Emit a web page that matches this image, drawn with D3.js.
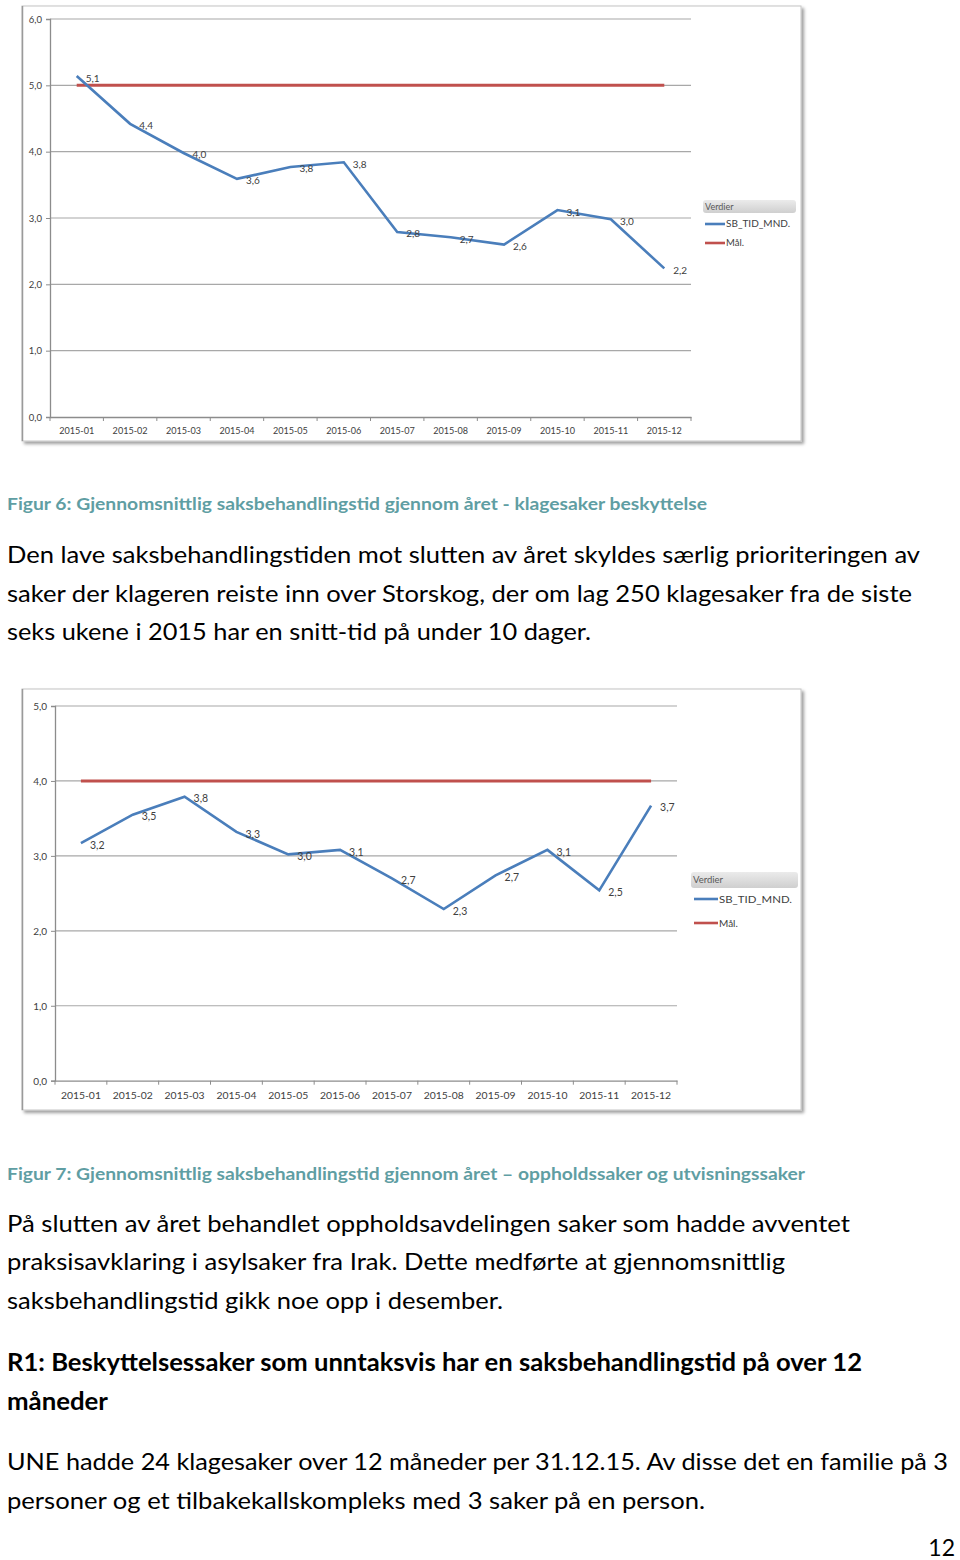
<!DOCTYPE html>
<html><head><meta charset="utf-8">
<script src="https://cdn.jsdelivr.net/npm/d3@7/dist/d3.min.js"></script>
<style>body{margin:0;background:#fff;}svg{display:block;}</style>
</head><body>
<script>
// ---------- data ----------
const months = ["2015-01","2015-02","2015-03","2015-04","2015-05","2015-06","2015-07","2015-08","2015-09","2015-10","2015-11","2015-12"];
const klageValues = [5.14, 4.42, 3.98, 3.59, 3.77, 3.84, 2.79, 2.71, 2.60, 3.12, 2.98, 2.24];
const klageTarget = [5, 5, 5, 5, 5, 5, 5, 5, 5, 5, 5, 5];
const klageTicks = [0, 1, 2, 3, 4, 5, 6];
const oppholdValues = [3.17, 3.55, 3.79, 3.32, 3.02, 3.08, 2.70, 2.29, 2.74, 3.08, 2.54, 3.67];
const oppholdTarget = [4, 4, 4, 4, 4, 4, 4, 4, 4, 4, 4, 4];
const oppholdTicks = [0, 1, 2, 3, 4, 5];
const seriesNames = ["SB_TID_MND.", "Mål."];
const legendTitle = "Verdier";

const W = 960, H = 1560;
const svg = d3.select("body").append("svg").attr("width", W).attr("height", H);
const defs = svg.append("defs");
const f = defs.append("filter").attr("id","shadow").attr("x","-5%").attr("y","-5%").attr("width","110%").attr("height","110%");
f.append("feDropShadow").attr("dx",2.5).attr("dy",2.5).attr("stdDeviation",1.8).attr("flood-color","#000").attr("flood-opacity",0.38);
const lg = defs.append("linearGradient").attr("id","legGrad").attr("x1",0).attr("y1",0).attr("x2",0).attr("y2",1);
lg.append("stop").attr("offset","0%").attr("stop-color","#ebebeb");
lg.append("stop").attr("offset","100%").attr("stop-color","#cfcfcf");

const fmt = v => d3.format(".1f")(v).replace(".", ",");
const BLUE = "#4a7ebb", RED = "#c0504d", TXT = "#404040", FONT = "Lato, 'Open Sans', sans-serif";

function drawChart(cfg) {
  const g = svg.append("g");
  g.append("rect").attr("x", cfg.fx).attr("y", cfg.fy).attr("width", cfg.fw).attr("height", cfg.fh)
    .attr("fill", "#fff").attr("stroke", "#c4c4c4").attr("stroke-width", 1).attr("filter", "url(#shadow)");
  g.append("line").attr("x1", cfg.fx+0.5).attr("x2", cfg.fx+0.5).attr("y1", cfg.fy).attr("y2", cfg.fy+cfg.fh)
    .attr("stroke", "#9a9a9a").attr("stroke-width", 1.5);

  const x = d3.scaleBand().domain(months).range([cfg.left, cfg.right]);
  const y = d3.scaleLinear().domain([0, d3.max(cfg.ticks)]).range([cfg.bottom, cfg.top]);

  // gridlines
  g.append("g").selectAll("line").data(cfg.ticks.filter(t => t > 0)).join("line")
    .attr("x1", cfg.left).attr("x2", cfg.right)
    .attr("y1", d => y(d)).attr("y2", d => y(d))
    .attr("stroke", "#a8a8a8").attr("stroke-width", 1.2);

  // y axis
  const ya = g.append("g").attr("transform", `translate(${cfg.left},0)`)
    .call(d3.axisLeft(y).tickValues(cfg.ticks).tickFormat(fmt).tickSize(4).tickPadding(4));
  ya.select(".domain").attr("stroke", "#8c8c8c").attr("stroke-width", 1.3);
  ya.selectAll(".tick line").attr("stroke", "#8c8c8c");
  ya.selectAll("text").attr("fill", TXT).attr("font-family", FONT).attr("font-size", cfg.fs).attr("dy", "0.35em");

  // x axis
  const xa = g.append("g").attr("transform", `translate(0,${cfg.bottom})`)
    .call(d3.axisBottom(x).tickSize(0).tickPadding(cfg.xpad));
  xa.select(".domain").attr("stroke", "#8c8c8c").attr("stroke-width", 1.3);
  xa.selectAll("text").attr("fill", TXT).attr("font-family", FONT).attr("font-size", cfg.fs)
    .attr("textLength", cfg.xlw).attr("lengthAdjust", "spacingAndGlyphs");
  g.append("g").selectAll("line").data(d3.range(months.length + 1)).join("line")
    .attr("x1", i => cfg.left + i * x.step()).attr("x2", i => cfg.left + i * x.step())
    .attr("y1", cfg.bottom).attr("y2", cfg.bottom + 4)
    .attr("stroke", "#8c8c8c").attr("stroke-width", 1);

  const cx = d => x(d) + x.bandwidth() / 2;
  const line = d3.line().x(d => cx(d.m)).y(d => y(d.v));

  g.append("path").datum(months.map((m, i) => ({m, v: cfg.target[i]})))
    .attr("d", line).attr("fill", "none").attr("stroke", RED).attr("stroke-width", 3);
  const pts = months.map((m, i) => ({m, v: cfg.values[i]}));
  g.append("path").datum(pts)
    .attr("d", line).attr("fill", "none").attr("stroke", BLUE).attr("stroke-width", 2.6)
    .attr("stroke-linejoin", "miter");

  g.append("g").selectAll("text").data(pts).join("text")
    .attr("x", d => cx(d.m) + 9).attr("y", d => y(d.v) + 2)
    .attr("dy", "0.35em").attr("fill", TXT).attr("font-family", FONT).attr("font-size", cfg.fs + 0.5)
    .text(d => fmt(d.v));

  // legend
  const L = cfg.leg;
  g.append("rect").attr("x", L.x).attr("y", L.y).attr("width", L.w).attr("height", L.h).attr("rx", 3)
    .attr("fill", "url(#legGrad)");
  g.append("text").attr("x", L.x + 2).attr("y", L.y + L.h/2).attr("dy", "0.35em")
    .attr("fill", "#595959").attr("font-family", FONT).attr("font-size", cfg.fs - 0.5).text(legendTitle);
  [BLUE, RED].forEach((c, i) => {
    const yy = L.y1 + i * L.gap;
    g.append("line").attr("x1", L.lx).attr("x2", L.lx + L.ll).attr("y1", yy).attr("y2", yy)
      .attr("stroke", c).attr("stroke-width", 2.6);
    const t = g.append("text").attr("x", L.lx + L.ll + 1).attr("y", yy).attr("dy", "0.35em")
      .attr("fill", TXT).attr("font-family", FONT).attr("font-size", cfg.fs).text(seriesNames[i]);
    if (i === 0) t.attr("textLength", L.tw).attr("lengthAdjust", "spacingAndGlyphs");
  });
}

drawChart({
  fx: 22, fy: 6, fw: 779, fh: 435,
  left: 50, right: 691, top: 19, bottom: 417,
  values: klageValues, target: klageTarget, ticks: klageTicks,
  fs: 9.5, xpad: 10, xlw: 35,
  leg: {x: 703, y: 200, w: 93, h: 13, lx: 705, ll: 20, y1: 224, gap: 19, tw: 64}
});
drawChart({
  fx: 22, fy: 689, fw: 779, fh: 421,
  left: 55, right: 677, top: 706, bottom: 1080.7,
  values: oppholdValues, target: oppholdTarget, ticks: oppholdTicks,
  fs: 10, xpad: 11, xlw: 40,
  leg: {x: 691, y: 872, w: 107, h: 16, lx: 694, ll: 24, y1: 899, gap: 24, tw: 73}
});

// ---------- document text ----------
const CAP = "#5f9ea3";
const lines = [
  {t: "Figur 6: Gjennomsnittlig saksbehandlingstid gjennom året - klagesaker beskyttelse", y: 510, w: 700, fs: 17.5, b: true, c: CAP},
  {t: "Den lave saksbehandlingstiden mot slutten av året skyldes særlig prioriteringen av", y: 563, w: 913, fs: 24},
  {t: "saker der klageren reiste inn over Storskog, der om lag 250 klagesaker fra de siste", y: 601.5, w: 905, fs: 24},
  {t: "seks ukene i 2015 har en snitt-tid på under 10 dager.", y: 640, w: 584, fs: 24},
  {t: "Figur 7: Gjennomsnittlig saksbehandlingstid gjennom året – oppholdssaker og utvisningssaker", y: 1179.5, w: 798, fs: 17.5, b: true, c: CAP},
  {t: "På slutten av året behandlet oppholdsavdelingen saker som hadde avventet", y: 1231.5, w: 843, fs: 24},
  {t: "praksisavklaring i asylsaker fra Irak. Dette medførte at gjennomsnittlig", y: 1270, w: 778, fs: 24},
  {t: "saksbehandlingstid gikk noe opp i desember.", y: 1308.5, w: 496, fs: 24},
  {t: "R1: Beskyttelsessaker som unntaksvis har en saksbehandlingstid på over 12", y: 1371, w: 855, fs: 24, b: true},
  {t: "måneder", y: 1409.5, w: 101, fs: 24, b: true},
  {t: "UNE hadde 24 klagesaker over 12 måneder per 31.12.15. Av disse det en familie på 3", y: 1470, w: 941, fs: 24},
  {t: "personer og et tilbakekallskompleks med 3 saker på en person.", y: 1508.5, w: 698, fs: 24},
];
svg.append("g").selectAll("text").data(lines).join("text")
  .attr("x", 7).attr("y", d => d.y)
  .attr("font-family", FONT).attr("font-size", d => d.fs)
  .attr("font-weight", d => d.b ? "bold" : "normal")
  .attr("fill", d => d.c || "#000")
  .attr("textLength", d => d.w).attr("lengthAdjust", "spacingAndGlyphs")
  .text(d => d.t);
svg.append("text").attr("x", 955).attr("y", 1556).attr("text-anchor", "end")
  .attr("font-family", FONT).attr("font-size", 23).attr("fill", "#000").text("12");
</script>
</body></html>
